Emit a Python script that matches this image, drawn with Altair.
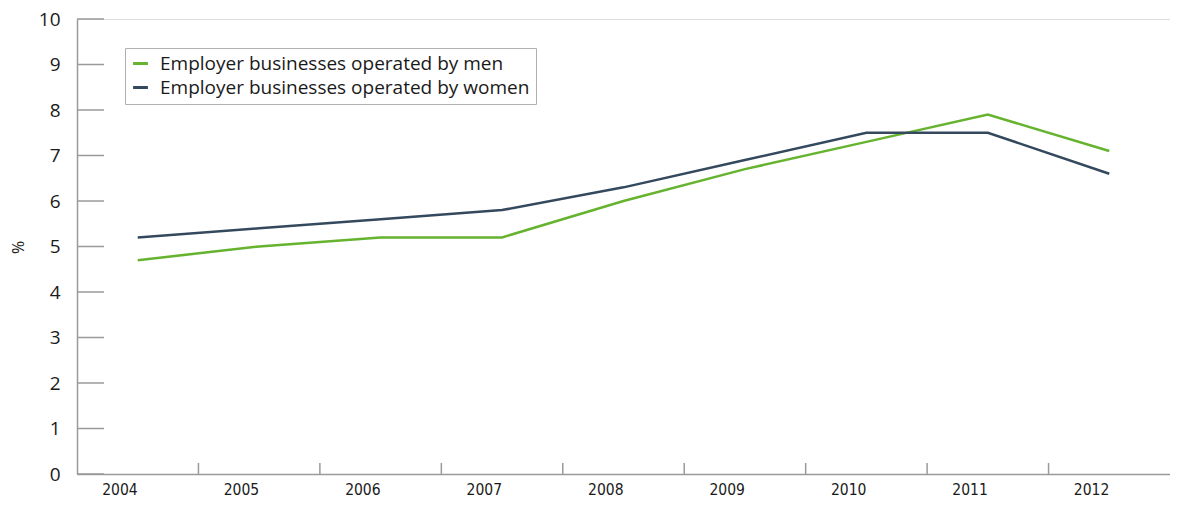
import altair as alt
import pandas as pd

years = ["2004", "2005", "2006", "2007", "2008", "2009", "2010", "2011", "2012"]
men = [4.7, 5.0, 5.2, 5.2, 6.0, 6.7, 7.3, 7.9, 7.1]
women = [5.2, 5.4, 5.6, 5.8, 6.3, 6.9, 7.5, 7.5, 6.6]
series_names = ["Employer businesses operated by men", "Employer businesses operated by women"]
series_colors = ["#65B32E", "#34495E"]
y_ticks = [0, 1, 2, 3, 4, 5, 6, 7, 8, 9, 10]

rows = []
for i, y in enumerate(years):
    rows.append({"year": y, "series": series_names[0], "value": men[i]})
    rows.append({"year": y, "series": series_names[1], "value": women[i]})
df = pd.DataFrame(rows)

W, H = 1093, 455
font = "Open Sans"
axis_gray = "#9a9a9a"

xscale = alt.Scale(domain=years, paddingInner=0, paddingOuter=0)
yscale = alt.Scale(domain=[0, 10], nice=False)

lines = alt.Chart(df).mark_line(strokeWidth=2.5).encode(
    x=alt.X("year:O", scale=xscale, sort=years,
            axis=alt.Axis(title=None, labelAngle=0, tickSize=0, labelPadding=15,
                          labelFont="DejaVu Sans Condensed", labelFontSize=15.5,
                          labelColor="#1a1a1a", domainColor=axis_gray, domainWidth=1.5)),
    y=alt.Y("value:Q", scale=yscale,
            axis=alt.Axis(title="%", values=y_ticks, tickSize=0, grid=False, labelPadding=17,
                          labelFont=font, labelFontSize=19, labelColor="#1a1a1a",
                          domainColor=axis_gray, domainWidth=1.5,
                          titleFont=font, titleFontSize=16, titleFontWeight="normal",
                          titleColor="#1a1a1a", titleAngle=270, titleX=-59, titleY=228,
                          titleAlign="center", titleBaseline="middle")),
    color=alt.Color("series:N",
                    scale=alt.Scale(domain=series_names, range=series_colors),
                    legend=alt.Legend(title=None, orient="none", legendX=48, legendY=29,
                                      strokeColor="#b0b0b0", fillColor="white", padding=6,
                                      symbolType="stroke", symbolStrokeWidth=3, symbolSize=220,
                                      labelFont=font, labelFontSize=19, labelColor="#1a1a1a",
                                      labelOffset=10, rowPadding=4, labelLimit=600)),
)

ytick_df = pd.DataFrame({"v": y_ticks})
yticks = alt.Chart(ytick_df).mark_rule(color=axis_gray, strokeWidth=1.5).encode(
    y=alt.Y("v:Q", scale=yscale),
    x=alt.value(0),
    x2=alt.value(27),
)

xtick_df = pd.DataFrame({"year": years[1:]})
xticks = alt.Chart(xtick_df).mark_rule(color=axis_gray, strokeWidth=1.5).encode(
    x=alt.X("year:O", scale=xscale, sort=years, bandPosition=0),
    y=alt.value(H - 11),
    y2=alt.value(H),
)

chart = alt.layer(yticks, xticks, lines).properties(
    width=W, height=H,
    autosize=alt.AutoSizeParams(type="none"),
    padding={"left": 69, "top": 11, "right": 0, "bottom": 30},
).configure_view(stroke=None).configure(background="white")

chart.save("out.html", embed_options={"renderer": "svg", "actions": False})
